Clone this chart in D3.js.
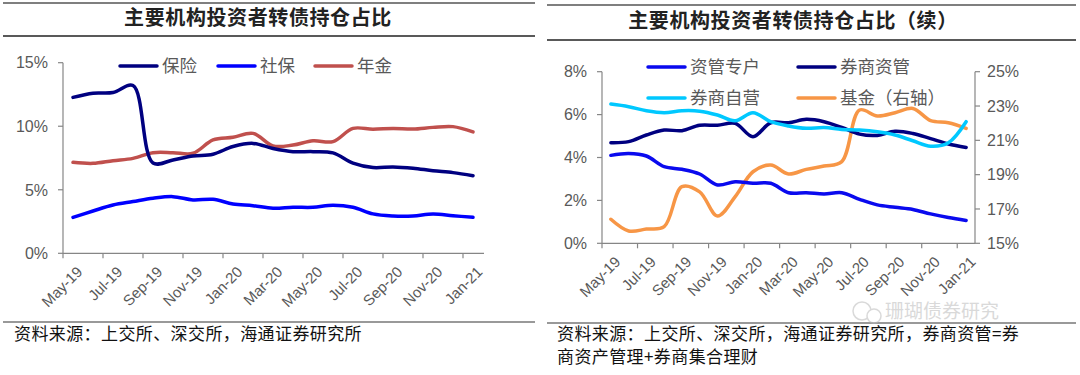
<!DOCTYPE html>
<html><head><meta charset="utf-8">
<script src="https://cdn.jsdelivr.net/npm/d3@7"></script>
<style>
html,body{margin:0;padding:0;background:#fff;}
svg{display:block;}
</style></head>
<body>
<svg id="c" width="1080" height="375"></svg>
<script>
const months = ["May-19","Jun-19","Jul-19","Aug-19","Sep-19","Oct-19","Nov-19","Dec-19","Jan-20","Feb-20","Mar-20","Apr-20","May-20","Jun-20","Jul-20","Aug-20","Sep-20","Oct-20","Nov-20","Dec-20","Jan-21"];
// Left chart (%)
const insurance = [12.27,12.6,12.65,13.2,7.1,7.35,7.65,7.8,8.4,8.65,8.25,8.0,8.0,7.9,7.1,6.75,6.8,6.7,6.5,6.35,6.1];
const socialSecurity = [2.83,3.33,3.8,4.07,4.33,4.46,4.2,4.25,3.88,3.75,3.54,3.62,3.62,3.78,3.62,3.1,2.94,2.94,3.1,2.96,2.83];
const annuity = [7.16,7.08,7.29,7.47,7.92,7.92,7.87,8.92,9.13,9.44,8.45,8.52,8.86,8.79,9.83,9.76,9.83,9.78,9.91,9.97,9.55];
const leftTicks = [0,5,10,15];
// Right chart (%)
const assetMgmtAccounts = [4.1,4.19,4.07,3.57,3.45,3.23,2.72,2.87,2.8,2.8,2.36,2.36,2.3,2.36,2.05,1.79,1.68,1.58,1.37,1.2,1.06];
const brokerAM = [4.69,4.74,5.05,5.28,5.25,5.5,5.5,5.59,4.97,5.62,5.62,5.78,5.67,5.4,5.09,5.03,5.22,5.12,4.88,4.63,4.47];
const brokerProp = [6.49,6.37,6.18,6.09,6.18,6.16,5.98,5.71,6.09,5.67,5.47,5.36,5.4,5.31,5.28,5.2,5.05,4.78,4.53,4.69,5.67];
const funds = [16.4,15.72,15.83,15.97,18.3,18.0,16.59,17.72,19.17,19.56,19.04,19.31,19.5,19.76,22.77,22.42,22.61,22.86,22.15,22.03,21.7];
const rightLeftTicks = [0,2,4,6,8];
const rightRightTicks = [15,17,19,21,23,25];

const titleLeft = "主要机构投资者转债持仓占比";
const titleRight = "主要机构投资者转债持仓占比（续）";
const sourceLeft = "资料来源：上交所、深交所，海通证券研究所";
const sourceRight1 = "资料来源：上交所、深交所，海通证券研究所，券商资管=券";
const sourceRight2 = "商资产管理+券商集合理财";

const svg = d3.select("#c");
const CJK = "'Noto Sans CJK SC', sans-serif";
const LAT = "'Liberation Sans', Arial, sans-serif";
const axisCol = "#868686", labCol = "#595959";

function frame(x0, x1, yTop, yMid, yBot, title, tx, ty) {
  svg.append("line").attr("x1",x0).attr("x2",x1).attr("y1",yTop).attr("y2",yTop).attr("stroke","#555").attr("stroke-width",1.5);
  svg.append("line").attr("x1",x0).attr("x2",x1).attr("y1",yMid).attr("y2",yMid).attr("stroke","#222").attr("stroke-width",1.5);
  svg.append("line").attr("x1",x0).attr("x2",x1).attr("y1",yBot).attr("y2",yBot).attr("stroke","#777").attr("stroke-width",1.5);
  svg.append("text").attr("x",tx).attr("y",ty).attr("text-anchor","middle")
    .attr("font-family",CJK).attr("font-size",20).attr("font-weight","bold").attr("letter-spacing",0.6).attr("fill","#222").text(title);
}

function xAxis(x, y0, axisEnd) {
  const g = svg.append("g");
  const [r0] = x.range();
  g.append("line").attr("x1",r0).attr("x2",axisEnd).attr("y1",y0).attr("y2",y0).attr("stroke",axisCol).attr("stroke-width",1.2);
  months.forEach((m,i)=>{
    if (i%2===0) {
      g.append("line").attr("x1",x(m)).attr("x2",x(m)).attr("y1",y0).attr("y2",y0+5).attr("stroke",axisCol).attr("stroke-width",1.2);
      const cx = x(m)+x.bandwidth()/2;
      g.append("text").attr("transform",`translate(${cx+3},${y0+12}) rotate(-45)`)
        .attr("text-anchor","end").attr("dy","0.7em").attr("font-family",LAT).attr("font-size",15).attr("fill",labCol).text(m);
    }
  });
}

function yAxis(y, xPos, ticks, side, yTop) {
  const g = svg.append("g");
  const [b] = y.range();
  g.append("line").attr("x1",xPos).attr("x2",xPos).attr("y1",b).attr("y2",yTop).attr("stroke",axisCol).attr("stroke-width",1.2);
  ticks.forEach(t=>{
    const yy = y(t);
    const dir = side==="left" ? -1 : 1;
    g.append("line").attr("x1",xPos).attr("x2",xPos+dir*5).attr("y1",yy).attr("y2",yy).attr("stroke",axisCol).attr("stroke-width",1.2);
    g.append("text").attr("x",xPos+dir*(side==="left"?15:12)).attr("y",yy).attr("dy","0.36em")
      .attr("text-anchor",side==="left"?"end":"start").attr("font-family",LAT).attr("font-size",16).attr("fill",labCol).text(t+"%");
  });
}

function series(x, y, data, color) {
  const line = d3.line().x((d,i)=>x(months[i])+x.bandwidth()/2).y(d=>y(d)).curve(d3.curveCatmullRom.alpha(0.5));
  svg.append("path").attr("d",line(data)).attr("fill","none").attr("stroke",color).attr("stroke-width",3.5).attr("stroke-linejoin","round").attr("stroke-linecap","round");
}

function legendItem(x, y, label, color) {
  svg.append("line").attr("x1",x).attr("x2",x+37).attr("y1",y).attr("y2",y).attr("stroke",color).attr("stroke-width",3.5).attr("stroke-linecap","round");
  svg.append("text").attr("x",x+42).attr("y",y).attr("dy","0.36em").attr("font-family",CJK).attr("font-size",17.5).attr("fill",labCol).text(label);
}

// ---------- Left chart ----------
frame(3, 535, 3, 36, 322, titleLeft, 258, 25);
const xL = d3.scaleBand().domain(months).range([63, 483]);
const yL = d3.scaleLinear().domain([0,15]).range([253.3, 62.7]);
yAxis(yL, 63, leftTicks, "left", 62.7);
xAxis(xL, 253.3, 484);
series(xL, yL, annuity, "#C0504D");
series(xL, yL, socialSecurity, "#0000FF");
series(xL, yL, insurance, "#000080");
legendItem(120, 66, "保险", "#000080");
legendItem(218, 66, "社保", "#0000FF");
legendItem(315, 66, "年金", "#C0504D");
svg.append("text").attr("x",14).attr("y",334).attr("dy","0.36em").attr("font-family",CJK).attr("font-size",17).attr("letter-spacing",0.4).attr("fill","#111").text(sourceLeft);

// ---------- Right chart ----------
frame(547, 1076, 5, 40, 323, titleRight, 793, 28);
const xR = d3.scaleBand().domain(months).range([602, 975]);
const yRL = d3.scaleLinear().domain([0,8]).range([243.3, 71.7]);
const yRR = d3.scaleLinear().domain([15,25]).range([243.3, 71.7]);
yAxis(yRL, 602, rightLeftTicks, "left", 71.7);
yAxis(yRR, 975, rightRightTicks, "right", 71.7);
xAxis(xR, 243.3, 975);
series(xR, yRR, funds, "#F79646");
series(xR, yRL, assetMgmtAccounts, "#0A0AEE");
series(xR, yRL, brokerAM, "#000080");
series(xR, yRL, brokerProp, "#00C8FF");
legendItem(648, 67, "资管专户", "#0A0AEE");
legendItem(798, 67, "券商资管", "#000080");
legendItem(648, 98, "券商自营", "#00C8FF");
legendItem(798, 98, "基金（右轴）", "#F79646");
svg.append("text").attr("x",557).attr("y",334).attr("dy","0.36em").attr("font-family",CJK).attr("font-size",17).attr("letter-spacing",0.4).attr("fill","#111").text(sourceRight1);
svg.append("text").attr("x",557).attr("y",357).attr("dy","0.36em").attr("font-family",CJK).attr("font-size",17).attr("letter-spacing",0.4).attr("fill","#111").text(sourceRight2);

// watermark
const wm = svg.append("g").attr("opacity",0.55);
wm.append("circle").attr("cx",862).attr("cy",311).attr("r",9).attr("fill","#fff").attr("stroke","#bbb").attr("stroke-width",1.5);
wm.append("circle").attr("cx",874).attr("cy",316).attr("r",7).attr("fill","#fff").attr("stroke","#bbb").attr("stroke-width",1.5);
wm.append("text").attr("x",885).attr("y",311).attr("dy","0.36em").attr("font-family",CJK).attr("font-size",19).attr("fill","#bbb").text("珊瑚债券研究");
</script>
</body></html>
